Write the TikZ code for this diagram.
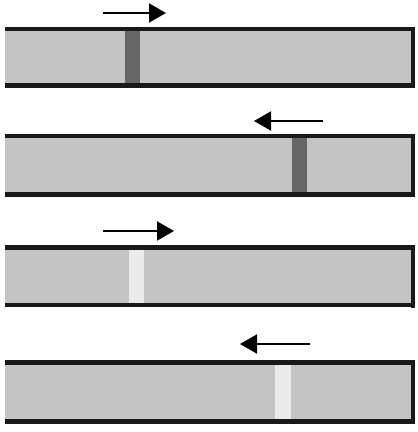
\documentclass[tikz,border=0pt]{standalone}
\usepackage{tikz}
\usetikzlibrary{arrows.meta}

\tikzset{
  tube/.style={fill=black!23},
  rail/.style={line width=4.5pt,color=black!90},
  darkband/.style={fill=black!60},
  lightband/.style={fill=black!8},
  move/.style={line width=2pt,-{Triangle[length=17pt 0,width=19pt 0]}}
}

\begin{document}
\begin{tikzpicture}[x=1pt,y=-1pt]
      \useasboundingbox (0,0) rectangle (418,432);
      % first tube
      \fill[tube] (5,29) rectangle (412,85.5);
      \fill[darkband] (125,31) rectangle (140,84);
      \draw[rail] (5,29) -- (414,29);
      \draw[rail] (5,85.5) -- (414,85.5);
      \draw[rail,line width=4pt] (412.5,27) -- (412.5,88);
      \coordinate (a1) at (103,13);
      \coordinate (b1) at (166,13);
      \draw[move] (a1) -- (b1);
      % second tube
      \fill[tube] (5,136) rectangle (412,194.5);
      \fill[darkband] (292,138) rectangle (307,193);
      \draw[rail] (5,136) -- (414,136);
      \draw[rail] (5,194.5) -- (414,194.5);
      \draw[rail,line width=4pt] (412.5,134) -- (412.5,197);
      \coordinate (a2) at (323,121);
      \coordinate (b2) at (254,121);
      \draw[move] (a2) -- (b2);
      % third tube
      \fill[tube] (5,247.5) rectangle (412,305);
      \fill[lightband] (129,250) rectangle (144,303);
      \draw[rail] (5,247.5) -- (414,247.5);
      \draw[rail] (5,305) -- (414,305);
      \draw[rail,line width=4pt] (412.5,245) -- (412.5,307.5);
      \coordinate (a3) at (103,231);
      \coordinate (b3) at (174,231);
      \draw[move] (a3) -- (b3);
      % fourth tube
      \fill[tube] (5,362.5) rectangle (412,421.5);
      \fill[lightband] (275,365) rectangle (291,419.5);
      \draw[rail] (5,362.5) -- (414,362.5);
      \draw[rail] (5,421.5) -- (414,421.5);
      \draw[rail,line width=4pt] (412.5,360) -- (412.5,424);
      \coordinate (a4) at (310,344);
      \coordinate (b4) at (240,344);
      \draw[move] (a4) -- (b4);
\end{tikzpicture}
\end{document}
